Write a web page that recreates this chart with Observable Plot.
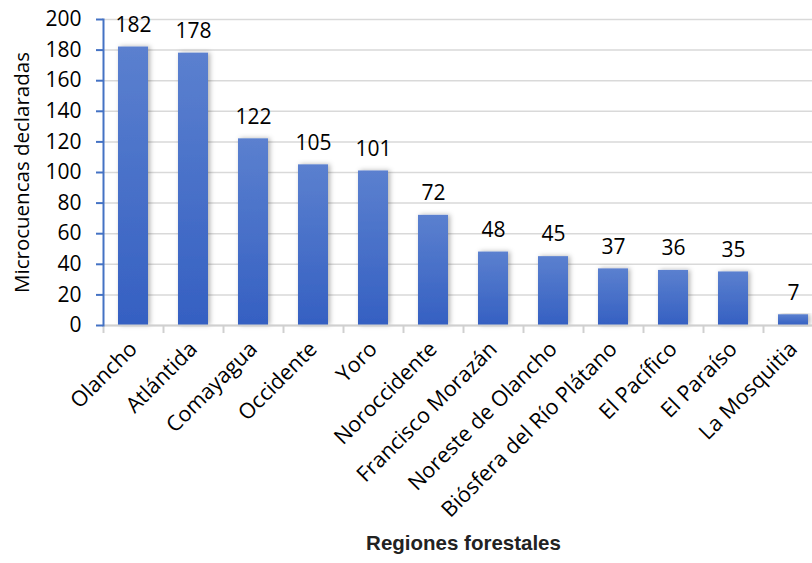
<!DOCTYPE html>
<html><head><meta charset="utf-8">
<script src="https://cdn.jsdelivr.net/npm/d3@7"></script>
<script src="https://cdn.jsdelivr.net/npm/@observablehq/plot@0.6"></script>
<style>body{margin:0;background:#fff}</style>
</head><body><div id="chart"></div>
<script>
const regiones = ["Olancho","Atlántida","Comayagua","Occidente","Yoro","Noroccidente","Francisco Morazán","Noreste de Olancho","Biósfera del Río Plátano","El Pacífico","El Paraíso","La Mosquitia"];
const valores = [182,178,122,105,101,72,48,45,37,36,35,7];
const yTicks = [0,20,40,60,80,100,120,140,160,180,200];
const titulos = {x: "Regiones forestales", y: "Microcuencas declaradas"};

const data = regiones.map((r,i)=>({region:r, valor:valores[i]}));
const font = "'Open Sans', sans-serif";

const chart = Plot.plot({
  width: 812, height: 563,
  marginTop: 19, marginBottom: 238, marginLeft: 103, marginRight: -11,
  style: {fontFamily: font, fontSize: "21px", background: "white", color: "#000", overflow: "visible"},
  x: {domain: regiones, paddingInner: 0.5, paddingOuter: 0.25, label: null},
  y: {domain: [0,200], ticks: yTicks, label: null},
  marks: [
    Plot.gridY(yTicks, {stroke: "#d9d9d9", strokeOpacity: 1, strokeWidth: 1.5}),
    Plot.barY(data, {x: "region", y: "valor", fill: "url(#barGrad)"}),
    Plot.text(data, {x: "region", y: "valor", text: d => String(d.valor), dy: -22, fontSize: 21, fill: "#000"}),
    Plot.ruleY([0], {stroke: "#d0d0d0", strokeWidth: 2}),
    Plot.axisX({text: null, tickSize: 8, dx: -30, stroke: "#d0d0d0", strokeWidth: 2}),
    Plot.axisX({tickSize: 0, tickRotate: -45, tickPadding: 20, fontSize: 21.5, fill: "#000"}),
    Plot.axisY({ticks: yTicks, tickSize: 7, tickPadding: 15, stroke: "#4472c4", strokeWidth: 2, fontSize: 21, fill: "#000"}),
    Plot.frame({anchor: "left", stroke: "#4472c4", strokeWidth: 2}),
    Plot.text([titulos.y], {frameAnchor: "left", textAnchor: "middle", rotate: -90, dx: -81, fontSize: 20.5, fill: "#000"}),
    Plot.text([titulos.x], {frameAnchor: "bottom", dy: 224, fontSize: 20.5, fontWeight: "bold", fontFamily: "'Liberation Sans', Arial, sans-serif", fill: "#222"})
  ]
});

const svg = d3.select(chart);
const defs = svg.insert("defs", ":first-child");
const g = defs.append("linearGradient").attr("id","barGrad").attr("x1",0).attr("y1",0).attr("x2",0).attr("y2",1);
g.append("stop").attr("offset","0%").attr("stop-color","#5b80cf");
g.append("stop").attr("offset","100%").attr("stop-color","#3560c2");
const f = defs.append("filter").attr("id","shadow").attr("x","-50%").attr("y","-10%").attr("width","200%").attr("height","120%");
f.append("feDropShadow").attr("dx",2).attr("dy",0).attr("stdDeviation",2.5).attr("flood-color","#000").attr("flood-opacity",0.3);
svg.selectAll("g[aria-label='bar'] rect").attr("filter","url(#shadow)");
document.getElementById("chart").appendChild(chart);
</script>
</body></html>
